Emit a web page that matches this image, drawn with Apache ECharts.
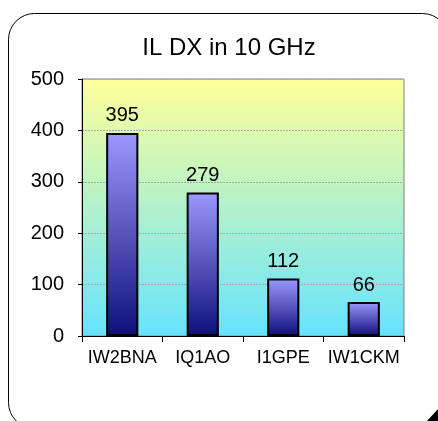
<!DOCTYPE html>
<html>
<head>
<meta charset="utf-8">
<script src="https://cdn.jsdelivr.net/npm/echarts@6/dist/echarts.min.js"></script>
<style>
html,body{margin:0;padding:0;background:#fff;}
#chart{width:438px;height:421px;}
</style>
</head>
<body>
<div id="chart"></div>
<script>
var titleText = 'IL DX in 10 GHz';
var categories = ['IW2BNA', 'IQ1AO', 'I1GPE', 'IW1CKM'];
var values = [395, 279, 112, 66];
var yTicks = [0, 100, 200, 300, 400, 500];

var FONT = '"Liberation Sans", Arial, sans-serif';
var chart = echarts.init(document.getElementById('chart'), null, {renderer: 'canvas'});
chart.setOption({
  animation: false,
  backgroundColor: '#ffffff',
  title: {
    text: titleText,
    left: 224,
    textAlign: 'center',
    top: 31,
    textStyle: {fontFamily: FONT, fontSize: 24, fontWeight: 'normal', color: '#000'}
  },
  graphic: [
    {
      type: 'rect', z: -10,
      shape: {x: 8.5, y: 13.5, width: 440, height: 415, r: 26},
      style: {fill: 'none', stroke: '#000', lineWidth: 1}
    },
    {
      type: 'polygon', z: 10,
      shape: {points: [[438, 409], [438, 421], [427, 421]]},
      style: {fill: '#000'}
    }
  ],
  grid: {
    left: 82, right: 34, top: 79, bottom: 85,
    show: true,
    borderColor: '#808080',
    borderWidth: 1,
    backgroundColor: {
      type: 'linear', x: 0, y: 0, x2: 0, y2: 1,
      colorStops: [
        {offset: 0, color: '#FFFF99'},
        {offset: 1, color: '#66E3FF'}
      ]
    }
  },
  xAxis: {
    type: 'category',
    data: categories,
    axisLine: {show: true, lineStyle: {color: '#000', width: 1}},
    axisTick: {show: true, alignWithLabel: false, length: 6, lineStyle: {color: '#000'}},
    axisLabel: {fontFamily: FONT, fontSize: 18, color: '#000', margin: 13, interval: 0},
    splitLine: {show: false}
  },
  yAxis: {
    type: 'value',
    min: yTicks[0],
    max: yTicks[yTicks.length - 1],
    interval: yTicks[1] - yTicks[0],
    axisLine: {show: true, lineStyle: {color: '#000', width: 1}},
    axisTick: {show: true, length: 4, lineStyle: {color: '#000'}},
    axisLabel: {fontFamily: FONT, fontSize: 20, color: '#000', margin: 18},
    splitLine: {show: true, lineStyle: {color: '#a8a8a8', type: [2, 1], width: 1}}
  },
  series: [{
    type: 'bar',
    data: values,
    barWidth: '40%',
    itemStyle: {
      borderColor: '#000',
      borderWidth: 2,
      color: {
        type: 'linear', x: 0, y: 0, x2: 0, y2: 1,
        colorStops: [
          {offset: 0, color: '#9999FF'},
          {offset: 1, color: '#0F0F78'}
        ]
      }
    },
    label: {
      show: true, position: 'top', distance: 7,
      fontFamily: FONT, fontSize: 20, color: '#000'
    }
  }]
});
</script>
</body>
</html>
